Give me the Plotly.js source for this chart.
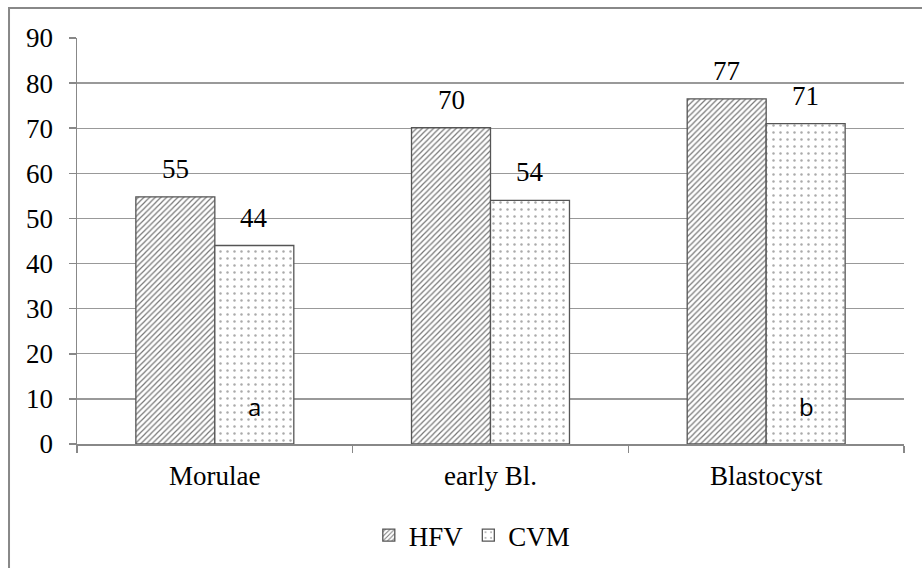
<!DOCTYPE html>
<html>
<head>
<meta charset="utf-8">
<script src="https://cdn.plot.ly/plotly-3.0.1.min.js"></script>
<style>html,body{margin:0;padding:0;background:#fff;}#chart{width:922px;height:568px;}</style>
</head>
<body>
<div id="chart"></div>
<script>
const categories = ["Morulae", "early Bl.", "Blastocyst"];
const hfvValues = [54.8, 70.1, 76.5];
const cvmValues = [44.0, 54.0, 71.0];
const hfvLabels = ["55", "70", "77"];
const cvmLabels = ["44", "54", "71"];
const yTicks = [0, 10, 20, 30, 40, 50, 60, 70, 80, 90];
const letterCats = ["Morulae", "Blastocyst"];
const letterTexts = ["a", "b"];
const letterY = 8.3;

const serif = "'Liberation Serif', 'DejaVu Serif', serif";
const FS = 27;

const traces = [
  {
    type: "bar", name: "HFV", x: categories, y: hfvValues,
    marker: {color: "#fff", line: {color: "#555", width: 1.3},
      pattern: {shape: "/", fgcolor: "#777", bgcolor: "#fff", size: 4, solidity: 0.3}},
    hoverinfo: "skip"
  },
  {
    type: "bar", name: "CVM", x: categories, y: cvmValues,
    marker: {color: "#fff", line: {color: "#555", width: 1.3},
      pattern: {shape: ".", fgcolor: "#aaa", bgcolor: "#fff", size: 7, solidity: 0.1}},
    hoverinfo: "skip"
  }
];

const annotations = [];
categories.forEach((c, i) => {
  annotations.push({x: c, y: hfvValues[i], xref: "x", yref: "y", text: hfvLabels[i], showarrow: false,
    xshift: -39.5, yshift: 11, yanchor: "bottom", font: {family: serif, size: FS, color: "#000"}});
  annotations.push({x: c, y: cvmValues[i], xref: "x", yref: "y", text: cvmLabels[i], showarrow: false,
    xshift: 39.5, yshift: 11, yanchor: "bottom", font: {family: serif, size: FS, color: "#000"}});
});
letterCats.forEach((c, i) => {
  annotations.push({x: c, y: letterY, xref: "x", yref: "y", text: letterTexts[i], showarrow: false,
    xshift: 40, font: {family: "'Open Sans', 'Liberation Sans', sans-serif", size: 24, color: "#000"}});
});

const layout = {
  width: 922, height: 568,
  margin: {l: 77, r: 18, t: 38, b: 124, autoexpand: false},
  paper_bgcolor: "#fff", plot_bgcolor: "#fff",
  font: {family: serif, size: FS, color: "#000"},
  barmode: "group", bargap: 0.427, bargroupgap: 0,
  showlegend: true,
  legend: {orientation: "h", x: 0.478, xanchor: "center", y: -0.165, yanchor: "top",
    font: {family: serif, size: FS, color: "#000"}, itemwidth: 30, traceorder: "normal"},
  xaxis: {
    type: "category", showgrid: false, showline: true, linecolor: "#888", linewidth: 1.5,
    ticks: "outside", ticklen: 7, tickcolor: "#888", tickwidth: 1.5, tickson: "boundaries",
    tickfont: {family: serif, size: FS, color: "#000"}, zeroline: false, ticklabelstandoff: 7,
    automargin: false
  },
  yaxis: {
    range: [0, 90], tickvals: yTicks, ticktext: yTicks.map(String),
    showgrid: true, gridcolor: "#999", gridwidth: 1.3,
    showline: true, linecolor: "#888", linewidth: 1.5,
    ticks: "outside", ticklen: 7, tickcolor: "#888", tickwidth: 1.5,
    tickfont: {family: serif, size: FS, color: "#000"}, zeroline: false, ticklabelstandoff: 10,
    automargin: false
  },
  annotations: annotations,
  shapes: [{
    type: "rect", xref: "paper", yref: "paper",
    x0: -0.0822, x1: 1.1, y0: -0.4, y1: 1.0739,
    line: {color: "#888", width: 2}, fillcolor: "rgba(0,0,0,0)", layer: "below"
  }]
};

Plotly.newPlot("chart", traces, layout, {staticPlot: true, displayModeBar: false});
</script>
</body>
</html>
